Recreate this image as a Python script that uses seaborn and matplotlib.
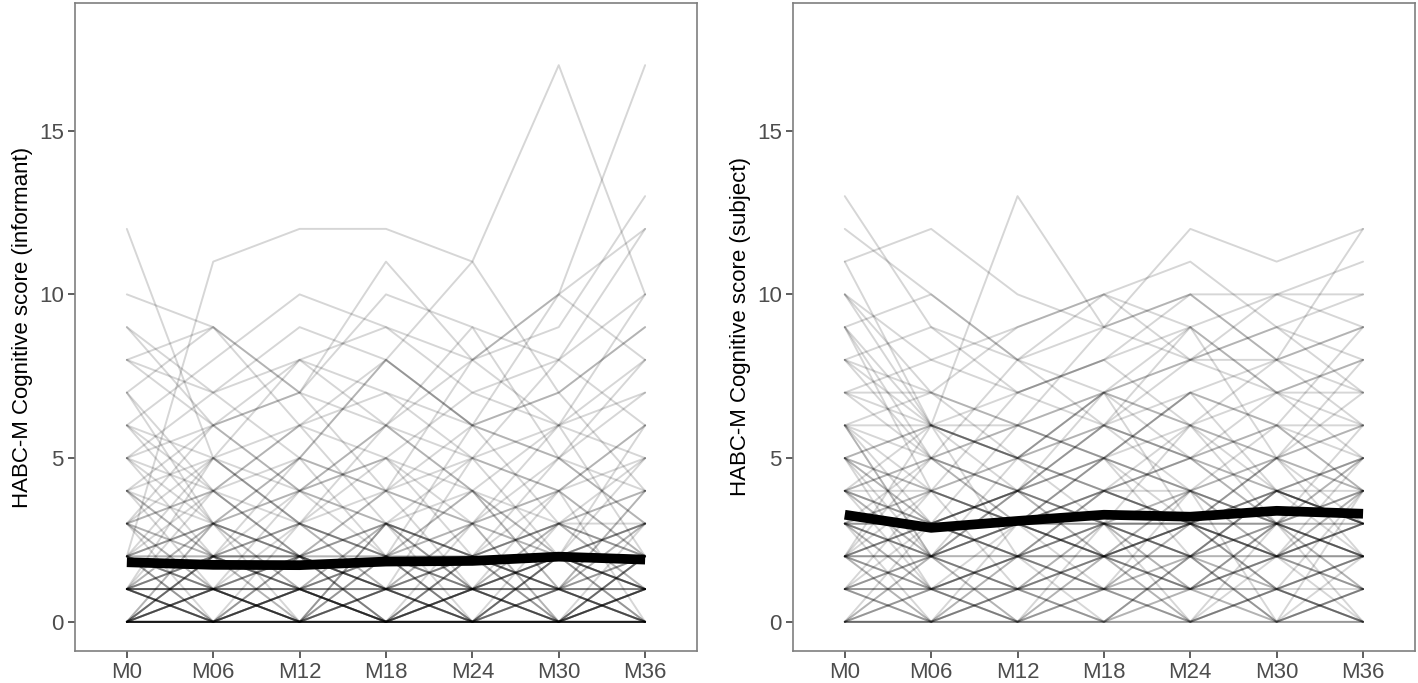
import numpy as np
import pandas as pd
import seaborn as sns
import matplotlib.pyplot as plt

visits = ["M0", "M06", "M12", "M18", "M24", "M30", "M36"]

# individual trajectories, informant rating
informant = [
    [0, 0, 0, 0, 0, 0, 0], [0, 0, 0, 0, 0, 0, 0], [0, 0, 0, 0, 0, 0, 0],
    [0, 1, 0, 0, 1, 0, 0], [0, 0, 1, 0, 0, 1, 0], [1, 0, 0, 1, 0, 0, 1],
    [1, 1, 0, 1, 1, 2, 1], [1, 2, 1, 0, 1, 1, 2], [2, 1, 2, 1, 0, 2, 1],
    [2, 2, 1, 2, 2, 1, 2], [0, 1, 2, 1, 2, 0, 1], [1, 0, 1, 2, 1, 2, 0],
    [2, 0, 1, 0, 2, 1, 3], [3, 2, 2, 3, 2, 3, 2], [2, 3, 1, 2, 3, 2, 1],
    [3, 1, 2, 1, 2, 3, 3], [1, 2, 3, 2, 1, 0, 2], [0, 2, 1, 3, 2, 1, 0],
    [4, 3, 2, 3, 4, 2, 3], [3, 4, 3, 2, 3, 4, 2], [2, 1, 0, 1, 0, 0, 1],
    [1, 0, 0, 0, 1, 1, 0], [5, 3, 4, 3, 2, 3, 4], [4, 2, 3, 4, 3, 5, 4],
    [0, 0, 1, 1, 0, 0, 0], [1, 1, 1, 0, 0, 1, 1], [2, 2, 2, 2, 1, 2, 2],
    [6, 4, 5, 4, 5, 4, 6], [5, 6, 4, 5, 3, 4, 5], [3, 5, 4, 6, 4, 3, 4],
    [0, 1, 0, 1, 1, 0, 2], [1, 0, 2, 1, 2, 3, 1], [2, 3, 2, 1, 3, 2, 3],
    [4, 5, 6, 5, 4, 6, 5], [8, 6, 7, 6, 5, 6, 7], [7, 9, 6, 8, 6, 7, 9],
    [9, 7, 8, 9, 7, 8, 10], [12, 5, 8, 7, 6, 10, 12], [2, 11, 12, 12, 11, 7, 9],
    [1, 3, 5, 8, 11, 17, 10], [0, 2, 4, 6, 8, 10, 17], [6, 8, 10, 9, 8, 10, 8],
    [8, 9, 7, 10, 9, 8, 12], [0, 0, 0, 1, 0, 1, 1], [1, 1, 2, 2, 1, 2, 1],
    [0, 2, 0, 2, 0, 2, 0], [2, 0, 2, 0, 2, 0, 2], [1, 3, 1, 3, 1, 3, 1],
    [3, 0, 3, 1, 3, 0, 3], [0, 3, 0, 3, 2, 4, 2], [4, 1, 4, 2, 4, 1, 4],
    [5, 2, 3, 5, 2, 5, 3], [1, 4, 2, 4, 1, 4, 0], [2, 5, 3, 1, 5, 2, 6],
    [6, 3, 5, 2, 6, 3, 5], [0, 0, 2, 0, 0, 2, 0], [1, 0, 0, 2, 0, 0, 1],
    [0, 1, 1, 0, 2, 1, 0], [2, 1, 0, 0, 1, 3, 2], [3, 2, 1, 2, 0, 1, 3],
    [1, 2, 0, 3, 1, 0, 2], [0, 0, 0, 0, 1, 0, 0], [0, 0, 1, 0, 0, 0, 0],
    [1, 1, 0, 0, 0, 0, 1], [9, 6, 4, 5, 7, 6, 8], [7, 4, 6, 7, 5, 8, 6],
    [4, 6, 8, 6, 9, 5, 7], [5, 7, 5, 8, 6, 7, 4], [2, 4, 6, 3, 5, 4, 6],
    [0, 0, 0, 0, 0, 0, 1], [1, 0, 1, 0, 1, 0, 1], [0, 1, 0, 0, 0, 0, 0],
    [0, 0, 0, 0, 0, 0, 0], [0, 0, 0, 0, 0, 0, 0], [1, 1, 1, 1, 1, 1, 1],
    [0, 1, 1, 1, 0, 0, 1], [1, 0, 1, 0, 0, 1, 0], [0, 0, 1, 1, 1, 0, 0],
    [2, 1, 1, 0, 1, 1, 0], [0, 2, 2, 1, 1, 2, 1], [1, 1, 0, 2, 2, 0, 0],
    [3, 1, 0, 1, 2, 1, 1], [0, 3, 2, 0, 1, 1, 0], [2, 0, 0, 3, 0, 2, 1],
    [1, 2, 2, 0, 3, 0, 2], [0, 1, 3, 2, 0, 2, 3], [4, 2, 1, 0, 2, 2, 1],
    [3, 4, 2, 1, 0, 3, 2], [2, 3, 4, 3, 2, 1, 4], [5, 4, 2, 3, 1, 2, 3],
    [1, 5, 3, 2, 4, 1, 2], [0, 2, 5, 4, 3, 6, 2], [6, 5, 3, 6, 4, 2, 5],
    [7, 3, 2, 4, 6, 5, 3], [8, 7, 9, 8, 6, 5, 8], [3, 6, 7, 4, 8, 6, 10],
    [10, 9, 7, 11, 8, 9, 13],
]

# individual trajectories, self rating
subject = [
    [0, 0, 0, 0, 0, 0, 0], [0, 1, 0, 0, 1, 0, 0], [1, 0, 1, 2, 0, 1, 0],
    [2, 1, 2, 1, 2, 2, 1], [3, 2, 3, 2, 3, 3, 2], [4, 3, 2, 3, 4, 3, 4],
    [5, 4, 3, 4, 3, 5, 4], [6, 3, 4, 5, 4, 3, 5], [2, 3, 4, 3, 2, 4, 3],
    [3, 4, 3, 5, 4, 2, 3], [1, 2, 1, 0, 1, 2, 2], [0, 0, 1, 1, 0, 0, 1],
    [2, 2, 2, 2, 2, 2, 2], [3, 3, 3, 3, 3, 3, 3], [4, 2, 5, 4, 5, 4, 3],
    [5, 6, 4, 6, 5, 6, 5], [8, 5, 6, 7, 6, 5, 6], [9, 6, 7, 8, 9, 7, 8],
    [10, 7, 9, 10, 8, 9, 10], [12, 10, 8, 9, 10, 8, 9], [13, 9, 7, 6, 8, 10, 11],
    [11, 12, 10, 9, 12, 11, 12], [10, 6, 13, 9, 10, 10, 10], [7, 8, 9, 10, 11, 9, 8],
    [6, 7, 5, 7, 6, 8, 7], [0, 2, 0, 3, 1, 2, 0], [1, 3, 2, 4, 3, 1, 2],
    [2, 0, 3, 2, 4, 3, 1], [3, 1, 2, 0, 2, 4, 3], [4, 5, 3, 2, 3, 5, 6],
    [5, 3, 6, 5, 7, 4, 5], [1, 0, 2, 1, 3, 2, 1], [0, 1, 2, 1, 0, 3, 2],
    [2, 4, 1, 3, 2, 0, 4], [3, 2, 4, 6, 5, 3, 2], [4, 6, 5, 3, 6, 7, 5],
    [6, 4, 7, 8, 6, 5, 7], [9, 5, 6, 5, 7, 6, 9], [8, 9, 8, 7, 8, 8, 6],
    [7, 5, 8, 6, 9, 7, 8], [0, 0, 0, 2, 0, 1, 0], [1, 1, 0, 0, 2, 0, 1],
    [2, 1, 1, 3, 1, 2, 2], [3, 2, 1, 2, 3, 1, 4], [1, 2, 3, 2, 1, 3, 2],
    [2, 3, 2, 4, 3, 2, 3], [4, 3, 4, 3, 2, 4, 3], [3, 4, 5, 4, 3, 2, 4],
    [5, 2, 3, 4, 4, 3, 3], [6, 5, 4, 5, 6, 4, 5], [0, 0, 1, 0, 0, 0, 0],
    [1, 0, 0, 1, 0, 1, 0], [0, 2, 1, 2, 2, 0, 1], [2, 1, 0, 1, 1, 2, 3],
    [4, 4, 3, 5, 2, 3, 4], [3, 5, 4, 3, 4, 5, 3], [5, 6, 5, 7, 5, 6, 6],
    [7, 6, 6, 5, 7, 6, 4], [8, 7, 6, 9, 8, 9, 7], [9, 10, 8, 10, 9, 10, 9],
    [1, 1, 2, 2, 1, 1, 2], [2, 2, 3, 3, 2, 3, 2], [0, 1, 1, 1, 1, 0, 1],
    [6, 2, 3, 2, 3, 2, 4], [4, 1, 2, 1, 3, 1, 2], [10, 8, 7, 8, 10, 8, 12],
    [5, 3, 4, 6, 4, 6, 4], [3, 1, 0, 2, 1, 3, 1], [2, 0, 1, 0, 2, 1, 0],
    [1, 2, 4, 2, 3, 2, 3], [2, 3, 2, 3, 2, 3, 2], [3, 2, 2, 2, 3, 2, 3],
    [4, 3, 3, 4, 3, 4, 4], [1, 1, 1, 1, 1, 1, 1], [0, 0, 0, 0, 0, 1, 0],
    [2, 2, 1, 2, 2, 1, 2], [3, 3, 4, 3, 3, 4, 3], [5, 4, 5, 4, 5, 4, 5],
    [4, 5, 4, 5, 4, 5, 4], [6, 6, 5, 6, 5, 7, 6], [7, 7, 6, 7, 8, 7, 7],
    [8, 6, 5, 6, 7, 8, 9], [2, 5, 3, 5, 3, 4, 2], [0, 3, 4, 2, 4, 2, 1],
    [1, 4, 3, 1, 2, 4, 3], [3, 0, 2, 3, 0, 2, 5], [4, 2, 0, 1, 4, 0, 2],
    [5, 1, 3, 2, 1, 3, 0], [9, 4, 3, 4, 5, 3, 6], [6, 2, 4, 7, 3, 5, 2],
    [2, 6, 2, 4, 6, 3, 5], [11, 6, 5, 7, 9, 5, 8], [3, 3, 2, 3, 3, 3, 4],
    [2, 3, 3, 3, 3, 4, 3],
]

# group means
mean_informant = [1.82, 1.74, 1.73, 1.84, 1.86, 1.99, 1.90]
mean_subject = [3.27, 2.87, 3.08, 3.27, 3.21, 3.39, 3.30]


def to_long(rows):
    recs = []
    for i, row in enumerate(rows):
        for v, s in zip(visits, row):
            recs.append({"id": i, "visit": v, "score": s})
    return pd.DataFrame(recs)


sns.set_theme(style="white")
plt.rcParams["font.family"] = ["Liberation Sans", "DejaVu Sans"]

fig = plt.figure(figsize=(14.18, 6.83), dpi=100)
ax1 = fig.add_axes([0.0529, 0.0469, 0.4386, 0.9488])
ax2 = fig.add_axes([0.5592, 0.0469, 0.4386, 0.9488])

panels = [
    (ax1, informant, mean_informant, "HABC-M Cognitive score (informant)"),
    (ax2, subject, mean_subject, "HABC-M Cognitive score (subject)"),
]

for ax, rows, means, label in panels:
    df = to_long(rows)
    sns.lineplot(data=df, x="visit", y="score", units="id", estimator=None,
                 color="black", alpha=0.16, lw=1.4, ax=ax)
    mdf = pd.DataFrame({"visit": visits, "score": means})
    sns.lineplot(data=mdf, x="visit", y="score", color="black", lw=7,
                 ax=ax, solid_capstyle="butt")
    ax.set_xlim(-0.6, 6.6)
    ax.set_ylim(-0.89, 18.9)
    ax.set_yticks([0, 5, 10, 15])
    ax.set_xlabel("")
    ax.set_ylabel(label, fontsize=16, color="black")
    for sp in ax.spines.values():
        sp.set_visible(True)
        sp.set_color("#7f7f7f")
        sp.set_linewidth(1.2)
    ax.tick_params(axis="both", which="both", length=5, width=1.1,
                   color="#333333", labelsize=16, labelcolor="#4d4d4d",
                   bottom=True, left=True, pad=3)

fig.savefig("out.png", dpi=100)
